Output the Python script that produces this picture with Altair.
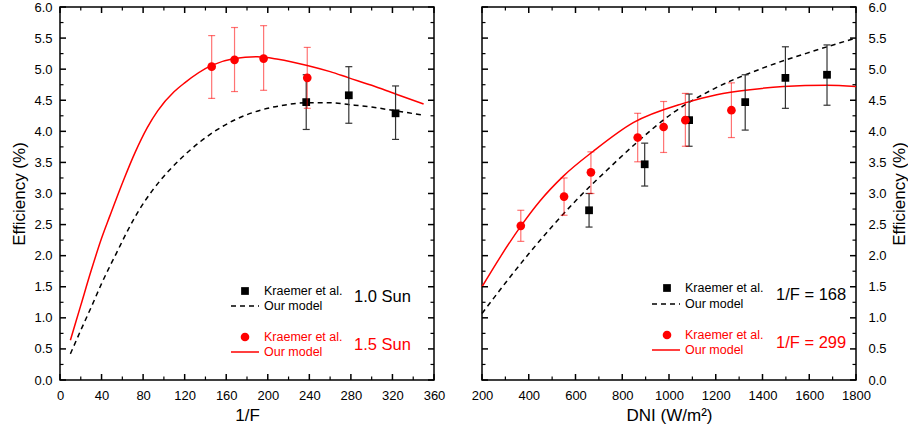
import altair as alt
import pandas as pd

FONT = "Liberation Sans"
RED = "#ff0000"
W, H = 374, 373

# ---------------- Left panel: efficiency vs 1/F ----------------
L_m15_x = [10, 20, 30, 40, 48, 62, 72, 84, 94, 110, 120, 146, 168, 190, 210, 238, 260, 278, 300, 323, 350]
L_m15_y = [0.64, 1.20, 1.76, 2.28, 2.64, 3.25, 3.65, 4.06, 4.33, 4.64, 4.78, 5.06, 5.17, 5.20, 5.16, 5.06, 4.96, 4.86, 4.74, 4.60, 4.44]
L_m10_x = [10, 20, 30, 40, 48, 54, 65, 76, 89, 105, 124, 147, 169, 195, 215, 237, 260, 278, 300, 323, 350]
L_m10_y = [0.42, 0.80, 1.17, 1.55, 1.83, 2.03, 2.40, 2.73, 3.05, 3.37, 3.68, 3.98, 4.19, 4.35, 4.42, 4.46, 4.46, 4.43, 4.39, 4.33, 4.26]
L_e15_x = [146, 168, 196, 238]
L_e15_y = [5.04, 5.15, 5.17, 4.86]
L_e15_lo = [4.53, 4.64, 4.66, 4.37]
L_e15_hi = [5.54, 5.67, 5.70, 5.35]
L_e10_x = [237, 278, 323]
L_e10_y = [4.47, 4.58, 4.29]
L_e10_lo = [4.03, 4.13, 3.87]
L_e10_hi = [4.91, 5.04, 4.73]
L_xmaj = [0, 40, 80, 120, 160, 200, 240, 280, 320, 360]
L_xmin = [20, 60, 100, 140, 180, 220, 260, 300, 340]

# ---------------- Right panel: efficiency vs DNI ----------------
R_m299_x = [200, 280, 367, 448, 548, 676, 847, 1061, 1204, 1347, 1489, 1675, 1800]
R_m299_y = [1.50, 1.99, 2.48, 2.88, 3.28, 3.68, 4.14, 4.45, 4.59, 4.67, 4.72, 4.74, 4.72]
R_m168_x = [200, 300, 400, 500, 600, 733, 862, 1018, 1190, 1403, 1617, 1800]
R_m168_y = [1.07, 1.56, 2.03, 2.47, 2.88, 3.37, 3.82, 4.30, 4.68, 5.02, 5.29, 5.50]
R_e299_x = [366, 551, 666, 866, 977, 1070, 1267]
R_e299_y = [2.48, 2.95, 3.34, 3.90, 4.07, 4.18, 4.34]
R_e299_lo = [2.23, 2.65, 3.00, 3.51, 3.66, 3.76, 3.90]
R_e299_hi = [2.73, 3.25, 3.67, 4.29, 4.48, 4.61, 4.78]
R_e168_x = [658, 896, 1086, 1326, 1498, 1676]
R_e168_y = [2.73, 3.47, 4.18, 4.47, 4.86, 4.91]
R_e168_lo = [2.46, 3.12, 3.76, 4.02, 4.37, 4.42]
R_e168_hi = [3.00, 3.81, 4.60, 4.91, 5.36, 5.39]
R_xmaj = [200, 400, 600, 800, 1000, 1200, 1400, 1600, 1800]
R_xmin = [300, 500, 700, 900, 1100, 1300, 1500, 1700]

Y_maj = [0.0, 0.5, 1.0, 1.5, 2.0, 2.5, 3.0, 3.5, 4.0, 4.5, 5.0, 5.5, 6.0]
Y_min = [0.25, 0.75, 1.25, 1.75, 2.25, 2.75, 3.25, 3.75, 4.25, 4.75, 5.25, 5.75]


def make_panel(xdom, xmaj, xmin, xtitle, yorient, lines, pts, legend):
    xaxis = alt.Axis(values=xmaj, ticks=False, domain=False, grid=False, format="d",
                     labelFont=FONT, labelFontSize=13, labelColor="black", labelPadding=9,
                     labelFlush=False, labelOverlap=False,
                     titleFont=FONT, titleFontSize=17, titleFontWeight="normal",
                     titleColor="black", titlePadding=5)
    if yorient == "left":
        yaxis = alt.Axis(values=Y_maj, ticks=False, domain=False, grid=False, format=".1f",
                         orient="left", labelFont=FONT, labelFontSize=13, labelColor="black",
                         labelPadding=8, labelOverlap=False,
                         titleFont=FONT, titleFontSize=17, titleFontWeight="normal",
                         titleColor="black", titlePadding=5)
    else:
        yaxis = alt.Axis(values=Y_maj, ticks=False, domain=False, grid=False, format=".1f",
                         orient="right", labelFont=FONT, labelFontSize=13, labelColor="black",
                         labelPadding=12, labelOverlap=False,
                         titleFont=FONT, titleFontSize=17, titleFontWeight="normal",
                         titleColor="black", titlePadding=5, titleAngle=270,
                         titleBaseline="top")
    xs = alt.Scale(domain=xdom, nice=False, zero=False)
    ys = alt.Scale(domain=[0, 6], nice=False, zero=False)

    def X(f):
        return alt.X(f"{f}:Q", scale=xs, axis=xaxis, title=xtitle)

    def Y(f):
        return alt.Y(f"{f}:Q", scale=ys, axis=yaxis, title="Efficiency (%)")

    layers = []
    # model curves
    for (lx, ly, color, dash) in lines:
        df = pd.DataFrame({"x": lx, "y": ly})
        kw = dict(color=color, strokeWidth=1.5, interpolate="monotone")
        if dash:
            kw["strokeDash"] = [5, 4]
        layers.append(alt.Chart(df).mark_line(**kw).encode(x=X("x"), y=Y("y")))
    # experimental points with error bars
    for (px, py, lo, hi, color, ecolor, eop, shape, size) in pts:
        df = pd.DataFrame({"x": px, "y": py, "lo": lo, "hi": hi})
        layers.append(alt.Chart(df).mark_rule(color=ecolor, opacity=eop, strokeWidth=1.2)
                      .encode(x=X("x"), y=Y("lo"), y2="hi"))
        for f in ("lo", "hi"):
            layers.append(alt.Chart(df).mark_tick(color=ecolor, opacity=eop, orient="horizontal",
                                                  size=7, thickness=1.2)
                          .encode(x=X("x"), y=Y(f)))
        layers.append(alt.Chart(df).mark_point(shape=shape, filled=True, color=color,
                                               size=size, opacity=1)
                      .encode(x=X("x"), y=Y("y")))
    # inward ticks on all four sides
    for vals, ln, sw in ((xmaj, 6, 1.5), (xmin, 3.5, 1.2)):
        df = pd.DataFrame({"v": vals})
        layers.append(alt.Chart(df).mark_rule(color="black", strokeWidth=sw)
                      .encode(x=X("v"), y=alt.value(H), y2=alt.value(H - ln)))
        layers.append(alt.Chart(df).mark_rule(color="black", strokeWidth=sw)
                      .encode(x=X("v"), y=alt.value(0), y2=alt.value(ln)))
    for vals, ln, sw in ((Y_maj, 6, 1.5), (Y_min, 3.5, 1.2)):
        df = pd.DataFrame({"v": vals})
        layers.append(alt.Chart(df).mark_rule(color="black", strokeWidth=sw)
                      .encode(y=Y("v"), x=alt.value(0), x2=alt.value(ln)))
        layers.append(alt.Chart(df).mark_rule(color="black", strokeWidth=sw)
                      .encode(y=Y("v"), x=alt.value(W), x2=alt.value(W - ln)))
    # hand-built legend
    one = pd.DataFrame({"a": [0]})
    for item in legend:
        (mx, my, shape, size, color, lx1, lx2, ly, dash, tx, big, bx, by) = item
        layers.append(alt.Chart(one).mark_point(shape=shape, filled=True, color=color,
                                                size=size, opacity=1)
                      .encode(x=alt.value(mx), y=alt.value(my)))
        lkw = dict(color=color, strokeWidth=1.5)
        if dash:
            lkw["strokeDash"] = [5, 4]
        layers.append(alt.Chart(one).mark_rule(**lkw)
                      .encode(x=alt.value(lx1), x2=alt.value(lx2), y=alt.value(ly)))
        layers.append(alt.Chart(one).mark_text(text="Kraemer et al.", font=FONT, fontSize=12.5,
                                               color=color, align="left", baseline="middle")
                      .encode(x=alt.value(tx), y=alt.value(my)))
        layers.append(alt.Chart(one).mark_text(text="Our model", font=FONT, fontSize=12.5,
                                               color=color, align="left", baseline="middle")
                      .encode(x=alt.value(tx), y=alt.value(ly)))
        layers.append(alt.Chart(one).mark_text(text=big, font=FONT, fontSize=16.5,
                                               color=color, align="left", baseline="middle")
                      .encode(x=alt.value(bx), y=alt.value(by)))
    return alt.layer(*layers).properties(width=W, height=H)


left = make_panel(
    [0, 360], L_xmaj, L_xmin, "1/F", "left",
    [(L_m10_x, L_m10_y, "black", True), (L_m15_x, L_m15_y, RED, False)],
    [(L_e10_x, L_e10_y, L_e10_lo, L_e10_hi, "black", "#333333", 1.0, "square", 60),
     (L_e15_x, L_e15_y, L_e15_lo, L_e15_hi, RED, RED, 0.55, "circle", 75)],
    [(185, 284, "square", 60, "black", 171, 199, 299, True, 204, "1.0 Sun", 294, 290),
     (185, 330, "circle", 75, RED, 171, 199, 345, False, 204, "1.5 Sun", 294, 338)],
)

right = make_panel(
    [200, 1800], R_xmaj, R_xmin, "DNI (W/m²)", "right",
    [(R_m168_x, R_m168_y, "black", True), (R_m299_x, R_m299_y, RED, False)],
    [(R_e168_x, R_e168_y, R_e168_lo, R_e168_hi, "black", "#333333", 1.0, "square", 60),
     (R_e299_x, R_e299_y, R_e299_lo, R_e299_hi, RED, RED, 0.55, "circle", 75)],
    [(185, 281, "square", 60, "black", 170, 198, 297, True, 203, "1/F = 168", 294, 288),
     (185, 328, "circle", 75, RED, 170, 198, 343, False, 203, "1/F = 299", 294, 336)],
)

chart = alt.hconcat(left, right, spacing=24).properties(
    padding={"left": 10, "top": 0, "right": 0, "bottom": 0}
).configure_view(stroke="black", strokeWidth=1.5)

chart.save("out.html", embed_options={"renderer": "svg", "actions": False})
